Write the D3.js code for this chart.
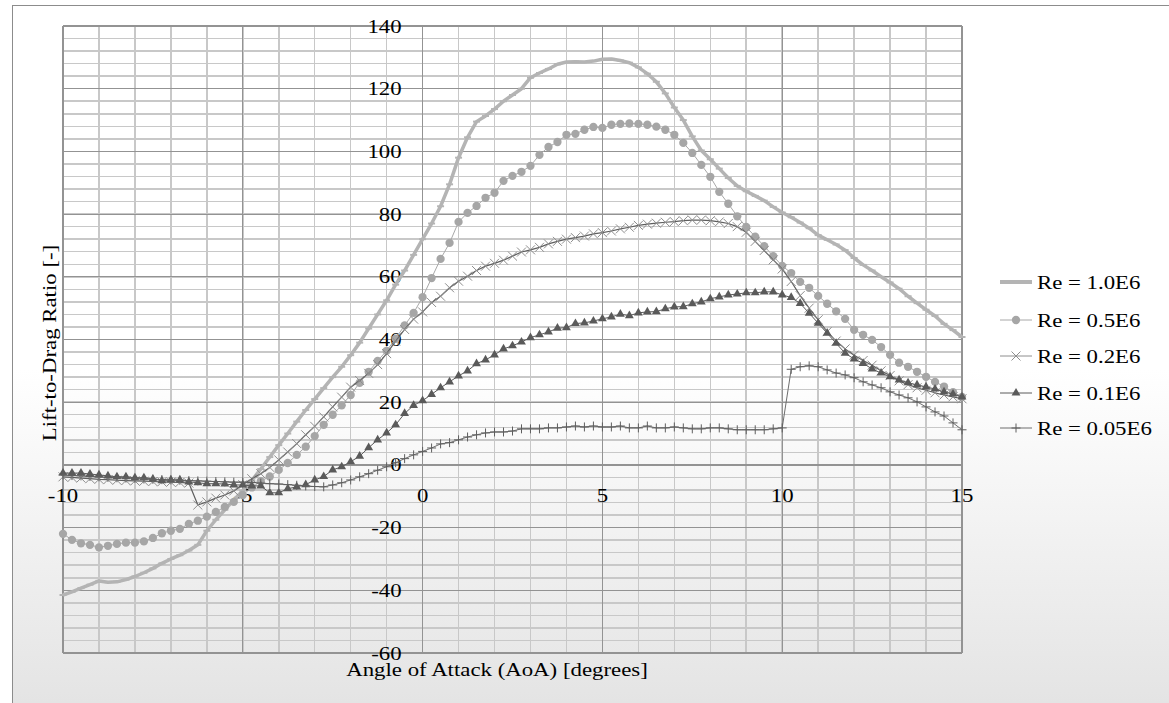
<!DOCTYPE html>
<html>
<head>
<meta charset="utf-8">
<script src="https://cdn.jsdelivr.net/npm/d3@7"></script>
<style>
  html, body { margin: 0; padding: 0; background: #fff; }
  svg { display: block; font-family: "Liberation Serif", "Times New Roman", serif; }
</style>
</head>
<body>
<svg id="chart" width="1169" height="703"></svg>
<script>
// angle of attack, sampled every 0.25 deg from -10 to 15
var aoa = d3.range(-40, 61).map(i => i / 4);

var re10 = [
  -41.5, -40.5, -39.3, -38.2, -37.0, -37.4, -37.3, -36.6, -35.6, -34.4,
  -33.0, -31.4, -30.0, -28.8, -27.3, -25.5, -21.0, -17.5, -14.3, -11.2,
  -8.2, -5.0, -1.3, 2.5, 6.3, 10.0, 13.8, 17.5, 21.0, 24.5,
  28.0, 31.3, 35.0, 39.0, 43.5, 48.0, 52.5, 57.5, 62.0, 67.0,
  72.0, 77.0, 82.5, 89.5, 98.0, 104.5, 109.5, 111.3, 113.5, 116.0,
  118.0, 120.0, 123.5, 125.0, 126.3, 127.8, 128.5, 128.6, 128.5, 128.8,
  129.4, 129.5, 129.0, 128.3, 126.8, 124.8, 122.2, 118.5, 114.0, 110.0,
  104.8, 100.3, 97.5, 94.5, 91.5, 89.0, 87.3, 85.8, 84.3, 82.3,
  80.5, 79.0, 77.3, 75.5, 73.3, 71.8, 70.3, 68.5, 66.0, 63.8,
  62.0, 60.0, 58.2, 56.2, 53.8, 51.6, 49.5, 47.5, 45.0, 43.0,
  40.8
];

var re05 = [
  -22.0, -23.9, -25.0, -25.5, -26.3, -25.8, -25.2, -24.8, -24.8, -24.4,
  -23.3, -21.8, -21.0, -20.4, -18.8, -17.8, -16.5, -15.0, -13.4, -11.8,
  -9.6, -7.2, -5.2, -3.7, -1.6, 0.6, 3.2, 5.8, 9.2, 12.8,
  16.0, 19.0, 22.3, 26.2, 29.7, 33.2, 36.4, 40.3, 44.5, 48.5,
  53.5, 59.6, 65.7, 70.8, 77.5, 80.4, 82.6, 85.2, 86.8, 90.6,
  92.2, 93.5, 95.4, 98.9, 101.4, 103.0, 105.3, 105.6, 106.9, 107.8,
  107.5, 108.5, 108.8, 108.9, 108.8, 108.5, 107.9, 106.9, 105.3, 102.7,
  99.5, 95.7, 91.9, 87.1, 83.3, 79.3, 75.9, 72.8, 69.8, 66.6,
  63.5, 61.2, 58.4, 56.5, 53.9, 51.4, 49.0, 46.6, 43.1, 41.5,
  39.9, 37.6, 35.1, 32.6, 31.3, 29.7, 28.1, 26.5, 25.0, 23.2,
  21.7
];

var re02 = [
  -3.8, -4.0, -4.2, -4.4, -4.6, -4.7, -4.9, -5.0, -5.1, -5.2,
  -5.3, -5.4, -5.5, -5.6, -5.8, -12.8, -11.8, -10.6, -9.6, -8.3,
  -6.3, -4.4, -2.8, -0.8, 1.6, 4.1, 6.8, 9.6, 12.3, 15.3,
  18.5, 21.6, 24.8, 26.9, 29.2, 32.0, 35.5, 39.5, 43.2, 46.5,
  48.8, 51.8, 53.8, 56.5, 58.6, 60.2, 62.0, 63.4, 64.3, 65.3,
  66.6, 67.9, 68.6, 69.4, 70.5, 71.3, 72.0, 72.5, 73.0, 73.7,
  74.1, 74.6, 75.3, 75.8, 76.4, 76.8, 77.1, 77.4, 77.6, 77.9,
  78.1, 78.1, 77.9, 77.5, 77.0, 76.0, 74.2, 71.3, 68.4, 65.4,
  62.5, 58.5, 54.0, 50.0, 46.3, 42.5, 39.5, 37.0, 35.0, 33.3,
  31.8, 30.0, 28.5, 26.8, 25.6, 24.6, 23.8, 23.0, 22.3, 21.7,
  21.1
];

var re01 = [
  -2.6, -2.6, -2.6, -2.9, -3.2, -3.5, -3.8, -3.8, -4.1, -4.1,
  -4.5, -5.0, -4.8, -4.8, -5.4, -5.7, -6.0, -6.0, -6.1, -6.4,
  -6.4, -6.7, -6.7, -8.9, -8.9, -7.6, -7.0, -6.3, -4.8, -3.7,
  -1.6, -0.6, 1.0, 2.8, 5.5, 8.0, 10.2, 12.8, 16.4, 19.0,
  20.5, 22.5, 24.6, 26.5, 28.4, 30.0, 32.3, 33.5, 35.1, 37.0,
  38.0, 39.2, 40.6, 41.5, 42.4, 43.6, 43.8, 45.1, 45.3, 45.9,
  46.6, 47.2, 48.1, 47.6, 48.5, 48.8, 48.9, 49.8, 50.4, 50.5,
  51.4, 52.0, 53.0, 53.6, 54.2, 54.5, 54.9, 54.9, 55.2, 55.2,
  54.2, 53.4, 51.5, 48.4, 45.2, 42.0, 38.8, 35.6, 33.8, 32.4,
  30.6, 29.3, 28.1, 27.1, 26.2, 25.5, 24.9, 24.2, 23.3, 22.6,
  21.7
];

var re005 = [
  -3.2, -3.4, -3.5, -3.7, -3.8, -4.0, -4.1, -4.2, -4.3, -4.5,
  -4.6, -4.7, -4.8, -4.9, -5.0, -5.1, -5.2, -5.3, -5.4, -5.5,
  -5.5, -5.6, -5.8, -6.0, -6.1, -6.3, -6.5, -6.7, -6.9, -7.0,
  -6.4, -5.7, -4.8, -3.8, -2.8, -1.7, -0.6, 0.7, 2.0, 3.2,
  4.3, 5.4, 6.7, 7.1, 8.0, 8.9, 9.6, 10.2, 10.5, 10.5,
  10.8, 11.5, 11.5, 11.5, 11.8, 11.8, 12.1, 12.4, 12.1, 12.4,
  12.1, 12.1, 12.4, 11.8, 11.8, 12.4, 11.8, 11.8, 12.1, 11.8,
  11.5, 11.5, 11.8, 11.8, 11.5, 11.2, 11.2, 11.2, 11.2, 11.5,
  11.8, 30.5, 31.3, 31.6, 31.3, 30.3, 29.3, 28.7, 27.8, 26.5,
  25.5, 24.6, 23.3, 22.3, 21.4, 20.1, 18.5, 16.9, 15.6, 13.4,
  11.2
];

var seriesNames = ["Re = 1.0E6", "Re = 0.5E6", "Re = 0.2E6", "Re = 0.1E6", "Re = 0.05E6"];
var xTicks = [-10, -5, 0, 5, 10, 15];
var yTicks = [-60, -40, -20, 0, 20, 40, 60, 80, 100, 120, 140];

var FS = 19.5, SX = 1.17;   // text looks horizontally stretched in the original

var svg = d3.select("#chart");
var x = d3.scaleLinear().domain([-10, 15]).range([63, 962]);
var y = d3.scaleLinear().domain([-60, 140]).range([653, 26]);

// chart area with the grey fade at the bottom
var grad = svg.append("defs").append("linearGradient")
    .attr("id", "bg")
    .attr("gradientUnits", "userSpaceOnUse")
    .attr("x1", 0).attr("y1", 370).attr("x2", 0).attr("y2", 703);
grad.append("stop").attr("offset", 0).attr("stop-color", "#ffffff");
grad.append("stop").attr("offset", 1).attr("stop-color", "#e4e4e4");

svg.append("rect")
    .attr("x", 12.5).attr("y", 5.5)
    .attr("width", 1200).attr("height", 760)
    .attr("fill", "url(#bg)")
    .attr("stroke", "#8c8c8c");

// grid: minor first, then major
var grid = svg.append("g").attr("shape-rendering", "crispEdges");

grid.selectAll(".vminor")
    .data(d3.range(-10, 16))
    .enter().append("line")
    .attr("x1", d => x(d)).attr("x2", d => x(d))
    .attr("y1", y(-60)).attr("y2", y(140))
    .attr("stroke", "#c8c8c8").attr("stroke-width", 1.5);

grid.selectAll(".hminor")
    .data(d3.range(-60, 141, 4))
    .enter().append("line")
    .attr("x1", x(-10)).attr("x2", x(15))
    .attr("y1", d => y(d)).attr("y2", d => y(d))
    .attr("stroke", "#c8c8c8").attr("stroke-width", 1.5);

grid.selectAll(".vmajor")
    .data(xTicks)
    .enter().append("line")
    .attr("x1", d => x(d)).attr("x2", d => x(d))
    .attr("y1", y(-60)).attr("y2", y(140))
    .attr("stroke", "#939393").attr("stroke-width", 1.2);

grid.selectAll(".hmajor")
    .data(yTicks)
    .enter().append("line")
    .attr("x1", x(-10)).attr("x2", x(15))
    .attr("y1", d => y(d)).attr("y2", d => y(d))
    .attr("stroke", "#939393").attr("stroke-width", 1.2);

// text helper (translate / rotate / horizontal stretch)
function label(g, px, py, txt, anchor, rot) {
  return g.append("text")
      .attr("transform", "translate(" + px + "," + py + ") rotate(" + (rot || 0) + ") scale(" + SX + ",1)")
      .attr("text-anchor", anchor)
      .attr("font-size", FS)
      .attr("fill", "#000")
      .text(txt);
}

// tick labels sit on the axes at x=0 / y=0
var labels = svg.append("g");
yTicks.forEach(t => label(labels, x(0) - 21, y(t) + 6.5, String(t), "end"));
xTicks.forEach(t => label(labels, x(t), y(0) + 37, String(t), "middle"));

label(labels, 497, 676, "Angle  of Attack (AoA) [degrees]", "middle");
label(labels, 56, 343, "Lift-to-Drag  Ratio [-]", "middle", -90);

// series
var line = d3.line()
    .x((d, i) => x(aoa[i]))
    .y(d => y(d));

var crossPath = "M-4.5,-4.5L4.5,4.5M-4.5,4.5L4.5,-4.5";
var plusPath = "M-4.5,0H4.5M0,-4.5V4.5";
var dashPath = "M-3.5,0H3.5";

var series = [
  { values: re10,  line: "#b4b4b4", width: 3.5, marker: dashPath, mStroke: "#b4b4b4", mWidth: 2, mFill: "none" },
  { values: re05,  line: "#a8a8a8", width: 1,   marker: d3.symbol().type(d3.symbolCircle).size(54)(), mStroke: "none", mWidth: 0, mFill: "#a6a6a6" },
  { values: re02,  line: "#5e5e5e", width: 1.2, marker: crossPath, mStroke: "#8e8e8e", mWidth: 1, mFill: "none" },
  { values: re01,  line: "#5a5a5a", width: 1,   marker: d3.symbol().type(d3.symbolTriangle).size(34)(), mStroke: "none", mWidth: 0, mFill: "#5a5a5a" },
  { values: re005, line: "#6e6e6e", width: 1,   marker: plusPath, mStroke: "#5e5e5e", mWidth: 1, mFill: "none" }
];

var plot = svg.append("g");

series.forEach(s => {
  plot.append("path")
      .attr("d", line(s.values))
      .attr("fill", "none")
      .attr("stroke", s.line)
      .attr("stroke-width", s.width)
      .attr("stroke-linejoin", "round");

  plot.append("g")
      .selectAll("path")
      .data(s.values)
      .enter().append("path")
      .attr("transform", (d, i) => "translate(" + x(aoa[i]) + "," + y(d) + ")")
      .attr("d", s.marker)
      .attr("fill", s.mFill)
      .attr("stroke", s.mStroke)
      .attr("stroke-width", s.mWidth);
});

// legend
var legend = svg.append("g");
var legY = [282, 320, 356, 393, 428];

series.forEach((s, i) => {
  var ly = legY[i];
  legend.append("line")
      .attr("x1", 1000).attr("x2", 1032)
      .attr("y1", ly).attr("y2", ly)
      .attr("stroke", i === 0 ? s.line : (i === 2 ? "#8e8e8e" : s.line))
      .attr("stroke-width", i === 0 ? 4 : 1);
  if (i > 0) {
    legend.append("path")
        .attr("transform", "translate(1016," + ly + ")")
        .attr("d", s.marker)
        .attr("fill", s.mFill)
        .attr("stroke", s.mStroke)
        .attr("stroke-width", s.mWidth);
  }
  label(legend, 1037, ly + 6.5, seriesNames[i], "start");
});
</script>
</body>
</html>
